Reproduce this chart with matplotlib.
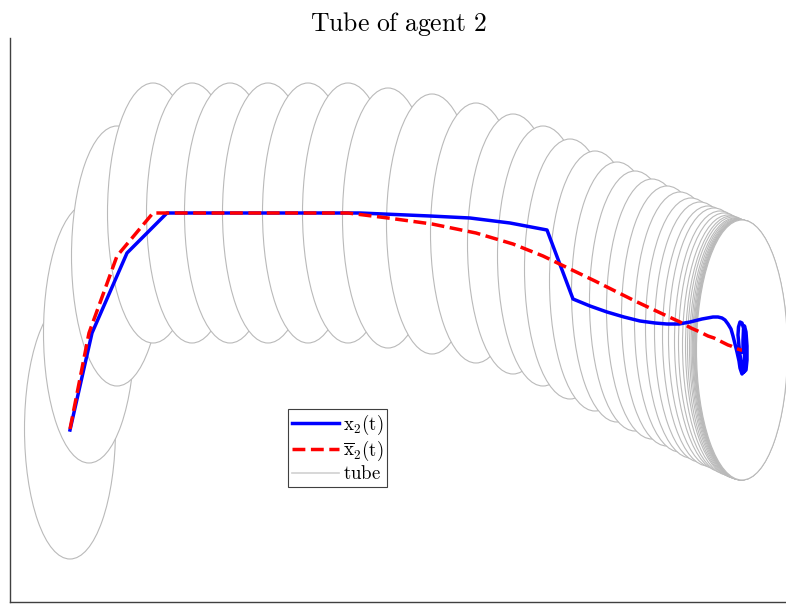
import matplotlib.pyplot as plt
from matplotlib.patches import Ellipse
from matplotlib.lines import Line2D

plt.rcParams['mathtext.fontset'] = 'cm'

# nominal trajectory of agent 2 (tube centres)
xbar_x = [0.60, 0.79, 1.07, 1.43, 1.82, 2.20, 2.58, 2.98, 3.38, 3.78, 4.22,
          4.66, 5.03, 5.33, 5.60, 5.85, 6.07, 6.25, 6.42, 6.57, 6.70, 6.81,
          6.90, 6.98, 7.04, 7.10, 7.14, 7.18, 7.21, 7.23, 7.25, 7.265, 7.278,
          7.288, 7.296, 7.302, 7.307, 7.311, 7.314, 7.316, 7.318, 7.32]
xbar_y = [1.73, 2.69, 3.46, 3.89, 3.89, 3.89, 3.89, 3.89, 3.89, 3.84, 3.78,
          3.69, 3.58, 3.46, 3.33, 3.21, 3.10, 3.01, 2.93, 2.86, 2.80, 2.74,
          2.70, 2.66, 2.64, 2.61, 2.59, 2.57, 2.56, 2.55, 2.54, 2.535, 2.53,
          2.527, 2.524, 2.522, 2.52, 2.52, 2.52, 2.52, 2.52, 2.52]

# actual trajectory of agent 2
x_x = [0.60, 0.82, 1.17, 1.57, 3.50, 4.20, 4.60, 5.00, 5.37, 5.63, 5.80,
       5.97, 6.14, 6.30, 6.45, 6.57, 6.69, 6.80, 6.92, 7.03, 7.08, 7.12,
       7.15, 7.18, 7.21, 7.23, 7.25, 7.27, 7.29, 7.30, 7.32, 7.335, 7.345,
       7.345, 7.335, 7.32, 7.30, 7.285, 7.28, 7.29, 7.30, 7.32, 7.34, 7.36,
       7.37, 7.37, 7.36, 7.345, 7.335, 7.33, 7.33]
x_y = [1.72, 2.69, 3.49, 3.89, 3.89, 3.86, 3.84, 3.79, 3.72, 3.03, 2.96,
       2.90, 2.85, 2.81, 2.79, 2.78, 2.78, 2.80, 2.83, 2.85, 2.85, 2.84,
       2.82, 2.78, 2.73, 2.66, 2.58, 2.50, 2.41, 2.34, 2.28, 2.30, 2.40,
       2.62, 2.74, 2.79, 2.80, 2.75, 2.67, 2.56, 2.47, 2.36, 2.30, 2.32,
       2.42, 2.56, 2.70, 2.76, 2.72, 2.62, 2.50]

# tube size (width, height)
tube_w = 0.91
tube_h = 2.60

tube_color = (0.73, 0.73, 0.73)

fig = plt.figure(figsize=(7.86, 6.05), dpi=100)
ax = fig.add_axes([10 / 786, 3 / 605, 776 / 786, 564 / 605])

for i, (cx, cy) in enumerate(zip(xbar_x, xbar_y)):
    e = Ellipse((cx, cy), tube_w, tube_h, facecolor='white',
                edgecolor=tube_color, linewidth=0.8, zorder=1 + i * 0.01)
    ax.add_patch(e)

ax.plot(x_x, x_y, color='blue', linewidth=2.5, zorder=5)
ax.plot(xbar_x, xbar_y, color='red', linewidth=2.5, linestyle='--', zorder=6)

ax.set_xlim(0, 7.76)
ax.set_ylim(0, 5.64)
ax.set_xticks([])
ax.set_yticks([])
ax.spines['right'].set_visible(False)
ax.spines['top'].set_visible(False)
for s in ['left', 'bottom']:
    ax.spines[s].set_color('#404040')
    ax.spines[s].set_linewidth(1.0)

ax.set_title(r'$\mathrm{Tube\ of\ agent\ 2}$', fontsize=18.5, pad=5)

handles = [Line2D([], [], color='blue', linewidth=2.5),
           Line2D([], [], color='red', linewidth=2.5, linestyle='--'),
           Line2D([], [], color=(0.82, 0.82, 0.82), linewidth=1.2)]
labels = [r'$\mathrm{x}_2(\mathrm{t})$', r'$\overline{\mathrm{x}}_2(\mathrm{t})$',
          r'$\mathrm{tube}$']
leg = ax.legend(handles, labels, loc='lower left', bbox_to_anchor=(0.358, 0.204),
                borderaxespad=0, fontsize=13.5, handlelength=2.55, handletextpad=0.2,
                labelspacing=0.08, borderpad=0.2, fancybox=False, framealpha=1)
leg.get_frame().set_edgecolor('#404040')
leg.get_frame().set_linewidth(0.8)
leg.set_zorder(10)

fig.savefig('out.png', dpi=100)
